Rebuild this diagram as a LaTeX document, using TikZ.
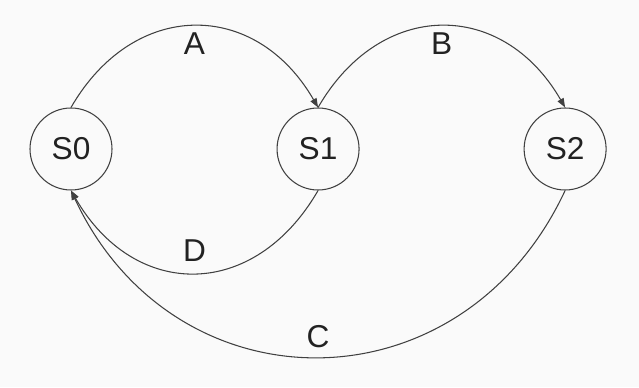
\documentclass[tikz,border=0pt]{standalone}
\usepackage{fontspec}
\setmainfont{Liberation Sans}
\usepackage{tikz}
\usetikzlibrary{arrows.meta,positioning}
\usepackage{xcolor}
\definecolor{ink}{HTML}{222222}
\definecolor{wire}{HTML}{404040}
\definecolor{paper}{HTML}{FAFAFA}
\tikzset{
  >={Triangle[length=6.5pt,width=4.8pt]},
  every node/.style={font=\fontsize{22.5}{26}\selectfont,text=ink},
  state/.style={circle,draw=wire,line width=0.75pt,minimum size=20.5mm,inner sep=0pt},
  trans/.style={->,line width=0.75pt,draw=wire},
  lbl/.style={inner sep=4pt},
}

\begin{document}
\begin{tikzpicture}[node distance=5mm and 41mm]
\fill[paper] (0,0) rectangle (15.975,9.675);
\useasboundingbox (0,0) rectangle (15.975,9.675);

% states
\node[state] (s0) at (1.775,5.95) {S0};
\node[state,right=of s0] (s1) {S1};
\node[state,right=of s1] (s2) {S2};

% forward arcs over the top
\draw[trans] (s0.north) to[out=60,in=120,looseness=1.3] node[lbl,midway,below] {A} (s1.north);
\draw[trans] (s1.north) to[out=60,in=120,looseness=1.3] node[lbl,midway,below] {B} (s2.north);

% back arcs underneath, both into s0
\draw[trans] (s1.south) to[out=240,in=-60,looseness=1.32] node[lbl,midway,above=4pt] {D} (s0.south);
\draw[trans] (s2.south) to[out=245,in=-65,looseness=1.27] node[lbl,midway,above=2pt] {C} (s0.south);

\end{tikzpicture}
\end{document}
